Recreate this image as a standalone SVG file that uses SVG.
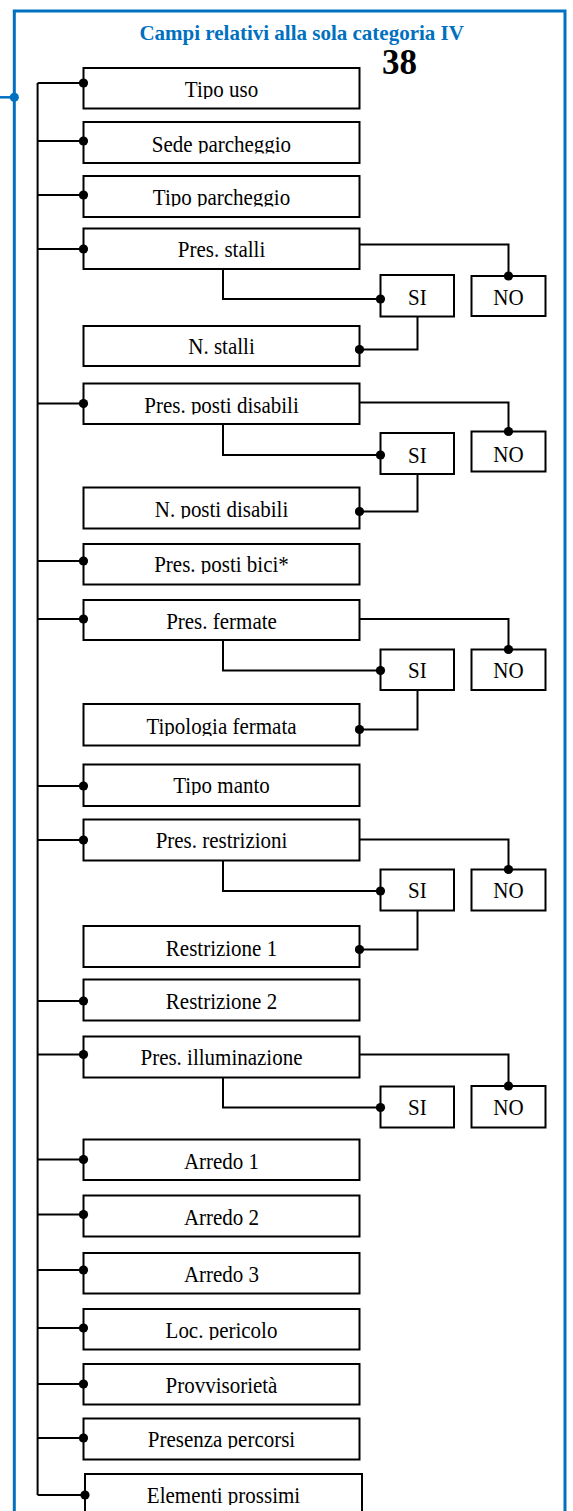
<svg xmlns="http://www.w3.org/2000/svg" width="573" height="1511" viewBox="0 0 573 1511">
<style>
.frame{fill:none;stroke:#0070C0;stroke-width:3}
.bstub{fill:none;stroke:#0070C0;stroke-width:2.5}
.title{font-family:"Liberation Serif","Times New Roman",serif;font-weight:bold;font-size:21px;fill:#0070C0;text-anchor:middle}
.num{font-family:"Liberation Serif","Times New Roman",serif;font-weight:bold;font-size:35px;fill:#000}
.box{fill:#fff;stroke:#000;stroke-width:2}
.lbl{font-family:"Liberation Serif","Times New Roman",serif;font-size:24px;fill:#000;text-anchor:middle;transform-box:fill-box;transform-origin:center;transform:scaleX(0.875)}
.conn{fill:none;stroke:#000;stroke-width:2;marker-end:url(#dot)}
.line{fill:none;stroke:#000;stroke-width:2}
</style>
<defs>
<marker id="dot" markerUnits="userSpaceOnUse" markerWidth="10" markerHeight="10" refX="5" refY="5" orient="auto">
<circle cx="5" cy="5" r="4.6" fill="#000"/>
</marker>
<clipPath id="clipLbl">
<rect x="83.5" y="68" width="276" height="31"/>
<rect x="83.5" y="122" width="276" height="31.5"/>
<rect x="83.5" y="176" width="276" height="30.5"/>
<rect x="83.5" y="228.5" width="276" height="30.5"/>
<rect x="83.5" y="326" width="276" height="29.5"/>
<rect x="83.5" y="383.5" width="276" height="31"/>
<rect x="83.5" y="487.5" width="276" height="31"/>
<rect x="83.5" y="544" width="276" height="30"/>
<rect x="83.5" y="600" width="276" height="31"/>
<rect x="83.5" y="704" width="276" height="32"/>
<rect x="83.5" y="764.5" width="276" height="30.5"/>
<rect x="83.5" y="819.5" width="276" height="30.5"/>
<rect x="83.5" y="926" width="276" height="31.5"/>
<rect x="83.5" y="979.5" width="276" height="31.5"/>
<rect x="83.5" y="1036.5" width="276" height="30"/>
<rect x="83.5" y="1139.5" width="276" height="31.5"/>
<rect x="83.5" y="1195.5" width="276" height="31.5"/>
<rect x="83.5" y="1253" width="276" height="31"/>
<rect x="83.5" y="1309" width="276" height="31"/>
<rect x="83.5" y="1364" width="276" height="31"/>
<rect x="83.5" y="1418.5" width="276" height="30"/>
<rect x="85" y="1474" width="277" height="31"/>
</clipPath>
</defs>

<g id="frame">
<path class="frame" d="M14.3,1515 V11 H565 V1515"/>
<path class="bstub" d="M0,97.3 H14.3"/>
<circle cx="14.3" cy="97.3" r="4.6" fill="#0070C0"/>
<text class="title" x="301.7" y="40">Campi relativi alla sola categoria IV</text>
<text class="num" x="382" y="74">38</text>
</g>

<g id="n-tipo-uso"><rect class="box" x="83.5" y="68" width="276" height="40.5"/><text class="lbl" x="221.5" y="97.5" clip-path="url(#clipLbl)">Tipo uso</text></g>
<g id="n-sede-parcheggio"><rect class="box" x="83.5" y="122" width="276" height="41"/><text class="lbl" x="221.5" y="152" clip-path="url(#clipLbl)">Sede parcheggio</text></g>
<g id="n-tipo-parcheggio"><rect class="box" x="83.5" y="176" width="276" height="41"/><text class="lbl" x="221.5" y="205" clip-path="url(#clipLbl)">Tipo parcheggio</text></g>
<g id="n-pres-stalli"><rect class="box" x="83.5" y="228.5" width="276" height="40.5"/><text class="lbl" x="221.5" y="257.5" clip-path="url(#clipLbl)">Pres. stalli</text></g>
<g id="n-stalli-si"><rect class="box" x="380.5" y="275" width="73.5" height="41.5"/><text class="lbl" x="417.3" y="305">SI</text></g>
<g id="n-stalli-no"><rect class="box" x="471.5" y="276" width="74" height="40"/><text class="lbl" x="508.5" y="305">NO</text></g>
<g id="n-n-stalli"><rect class="box" x="83.5" y="326" width="276" height="40"/><text class="lbl" x="221.5" y="354" clip-path="url(#clipLbl)">N. stalli</text></g>
<g id="n-pres-posti-disabili"><rect class="box" x="83.5" y="383.5" width="276" height="40.5"/><text class="lbl" x="221.5" y="413" clip-path="url(#clipLbl)">Pres. posti disabili</text></g>
<g id="n-disabili-si"><rect class="box" x="380.5" y="433" width="73.5" height="41"/><text class="lbl" x="417.3" y="463.5">SI</text></g>
<g id="n-disabili-no"><rect class="box" x="471.5" y="431.5" width="74" height="40"/><text class="lbl" x="508.5" y="462">NO</text></g>
<g id="n-n-posti-disabili"><rect class="box" x="83.5" y="487.5" width="276" height="41"/><text class="lbl" x="221.5" y="517" clip-path="url(#clipLbl)">N. posti disabili</text></g>
<g id="n-pres-posti-bici"><rect class="box" x="83.5" y="544" width="276" height="40.5"/><text class="lbl" x="221.5" y="572.5" clip-path="url(#clipLbl)">Pres. posti bici*</text></g>
<g id="n-pres-fermate"><rect class="box" x="83.5" y="600" width="276" height="40"/><text class="lbl" x="221.5" y="629.5" clip-path="url(#clipLbl)">Pres. fermate</text></g>
<g id="n-fermate-si"><rect class="box" x="380.5" y="649.5" width="73.5" height="40.5"/><text class="lbl" x="417.3" y="678.5">SI</text></g>
<g id="n-fermate-no"><rect class="box" x="471.5" y="649.5" width="74" height="40.5"/><text class="lbl" x="508.5" y="678.5">NO</text></g>
<g id="n-tipologia-fermata"><rect class="box" x="83.5" y="704" width="276" height="41.5"/><text class="lbl" x="221.5" y="734.5" clip-path="url(#clipLbl)">Tipologia fermata</text></g>
<g id="n-tipo-manto"><rect class="box" x="83.5" y="764.5" width="276" height="41.5"/><text class="lbl" x="221.5" y="793.5" clip-path="url(#clipLbl)">Tipo manto</text></g>
<g id="n-pres-restrizioni"><rect class="box" x="83.5" y="819.5" width="276" height="41"/><text class="lbl" x="221.5" y="848.5" clip-path="url(#clipLbl)">Pres. restrizioni</text></g>
<g id="n-restrizioni-si"><rect class="box" x="380.5" y="869.5" width="73.5" height="41"/><text class="lbl" x="417.3" y="898.5">SI</text></g>
<g id="n-restrizioni-no"><rect class="box" x="471.5" y="869.5" width="74" height="41"/><text class="lbl" x="508.5" y="898.5">NO</text></g>
<g id="n-restrizione-1"><rect class="box" x="83.5" y="926" width="276" height="41"/><text class="lbl" x="221.5" y="956" clip-path="url(#clipLbl)">Restrizione 1</text></g>
<g id="n-restrizione-2"><rect class="box" x="83.5" y="979.5" width="276" height="41"/><text class="lbl" x="221.5" y="1009.5" clip-path="url(#clipLbl)">Restrizione 2</text></g>
<g id="n-pres-illuminazione"><rect class="box" x="83.5" y="1036.5" width="276" height="41"/><text class="lbl" x="221.5" y="1065" clip-path="url(#clipLbl)">Pres. illuminazione</text></g>
<g id="n-illuminazione-si"><rect class="box" x="380.5" y="1086.5" width="73.5" height="41"/><text class="lbl" x="417.3" y="1115.5">SI</text></g>
<g id="n-illuminazione-no"><rect class="box" x="471.5" y="1086" width="74" height="41.5"/><text class="lbl" x="508.5" y="1115.5">NO</text></g>
<g id="n-arredo-1"><rect class="box" x="83.5" y="1139.5" width="276" height="40.5"/><text class="lbl" x="221.5" y="1169.5" clip-path="url(#clipLbl)">Arredo 1</text></g>
<g id="n-arredo-2"><rect class="box" x="83.5" y="1195.5" width="276" height="41"/><text class="lbl" x="221.5" y="1225.5" clip-path="url(#clipLbl)">Arredo 2</text></g>
<g id="n-arredo-3"><rect class="box" x="83.5" y="1253" width="276" height="40.5"/><text class="lbl" x="221.5" y="1282.5" clip-path="url(#clipLbl)">Arredo 3</text></g>
<g id="n-loc-pericolo"><rect class="box" x="83.5" y="1309" width="276" height="40.5"/><text class="lbl" x="221.5" y="1338.5" clip-path="url(#clipLbl)">Loc. pericolo</text></g>
<g id="n-provvisorieta"><rect class="box" x="83.5" y="1364" width="276" height="40.5"/><text class="lbl" x="221.5" y="1393.5" clip-path="url(#clipLbl)">Provvisorietà</text></g>
<g id="n-presenza-percorsi"><rect class="box" x="83.5" y="1418.5" width="276" height="41"/><text class="lbl" x="221.5" y="1447" clip-path="url(#clipLbl)">Presenza percorsi</text></g>
<g id="n-elementi-prossimi"><rect class="box" x="85" y="1474" width="277" height="45"/><text class="lbl" x="223.5" y="1503.5" clip-path="url(#clipLbl)">Elementi prossimi</text></g>

<g id="connectors">
<path class="line" d="M37.6,83 V1495"/>
<path class="conn" d="M37.6,83 H83.5"/>
<path class="conn" d="M37.6,141 H83.5"/>
<path class="conn" d="M37.6,195 H83.5"/>
<path class="conn" d="M37.6,249 H83.5"/>
<path class="conn" d="M359.5,244.5 H508.5 V276"/>
<path class="conn" d="M223,269 V299 H380.5"/>
<path class="conn" d="M417.5,316.5 V349.5 H359.5"/>
<path class="conn" d="M37.6,403.5 H83.5"/>
<path class="conn" d="M359.5,402.5 H508.5 V431.5"/>
<path class="conn" d="M223,424 V455 H380.5"/>
<path class="conn" d="M417.5,474 V511.5 H359.5"/>
<path class="conn" d="M37.6,561 H83.5"/>
<path class="conn" d="M37.6,619 H83.5"/>
<path class="conn" d="M359.5,619 H508.5 V649.5"/>
<path class="conn" d="M223,640 V670.5 H380.5"/>
<path class="conn" d="M417.5,690 V729.5 H359.5"/>
<path class="conn" d="M37.6,786 H83.5"/>
<path class="conn" d="M37.6,840 H83.5"/>
<path class="conn" d="M359.5,839.5 H508.5 V869.5"/>
<path class="conn" d="M223,860.5 V891 H380.5"/>
<path class="conn" d="M417.5,910.5 V949.5 H359.5"/>
<path class="conn" d="M37.6,1001 H83.5"/>
<path class="conn" d="M37.6,1054.5 H83.5"/>
<path class="conn" d="M359.5,1054.5 H508.5 V1086"/>
<path class="conn" d="M223,1077.5 V1107.5 H380.5"/>
<path class="conn" d="M37.6,1159.5 H83.5"/>
<path class="conn" d="M37.6,1214.5 H83.5"/>
<path class="conn" d="M37.6,1270 H83.5"/>
<path class="conn" d="M37.6,1328 H83.5"/>
<path class="conn" d="M37.6,1384 H83.5"/>
<path class="conn" d="M37.6,1438 H83.5"/>
<path class="conn" d="M37.6,1495 H85"/>
</g>
</svg>
